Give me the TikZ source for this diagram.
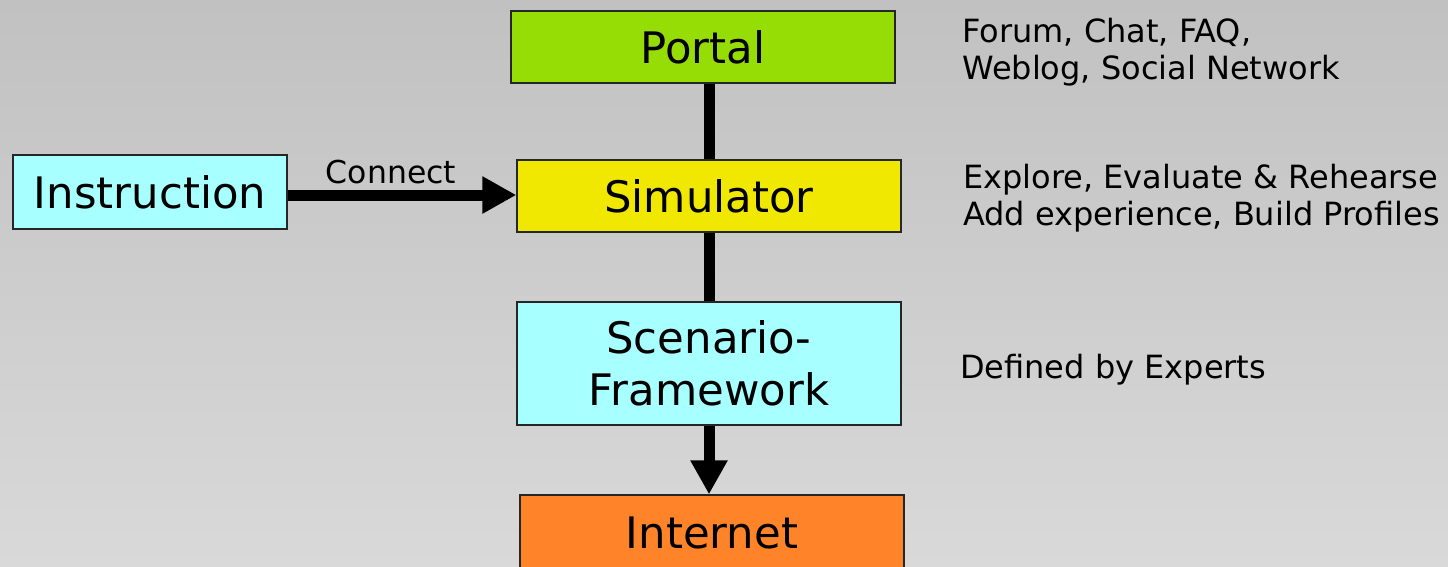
\documentclass[tikz,border=0pt]{standalone}
\usepackage{fontspec}
\setmainfont{DejaVu Sans}
\usetikzlibrary{arrows.meta}
\definecolor{bgtop}{RGB}{193,193,193}
\definecolor{bgbot}{RGB}{217,217,217}
\definecolor{portalgreen}{RGB}{150,220,5}
\definecolor{simyellow}{RGB}{240,232,0}
\definecolor{boxcyan}{RGB}{168,255,255}
\definecolor{netorange}{RGB}{255,132,41}
\tikzset{
  box/.style={draw=black!85, line width=1.3pt, rectangle, inner sep=0pt,
    font=\fontsize{43.4}{52}\selectfont, align=center},
  side/.style={anchor=north west, inner sep=0pt, align=left,
    font=\fontsize{32}{37.5}\selectfont},
  link/.style={line width=11pt, draw=black},
  arr/.style={line width=11pt, draw=black, -{Triangle[width=35pt,length=34pt]}}
}
\begin{document}
\begin{tikzpicture}[x=1pt,y=-1pt]
\shade[top color=bgtop, bottom color=bgbot] (0,0) rectangle (1448,566);
\useasboundingbox (0,0) rectangle (1448,566);
\node[box, fill=portalgreen, minimum width=384pt, minimum height=72pt] (portal) at (703,47) {Portal};
\node[box, fill=simyellow, minimum width=384pt, minimum height=72pt] (sim) at (709,196) {Simulator};
\node[box, fill=boxcyan, minimum width=384pt, minimum height=123pt] (scen) at (709,363.5) {Scenario-\\Framework};
\node[box, fill=netorange, minimum width=384pt, minimum height=76pt] (net) at (712,533) {Internet};
\node[box, fill=boxcyan, minimum width=274pt, minimum height=74pt] (instr) at (150,192) {Instruction};
\draw[link] (sim.north |- portal.south) -- (sim.north);
\draw[link] (sim.south) -- (sim.south |- scen.north);
\draw[arr] (scen.south) -- (scen.south |- net.north);
\draw[arr] ([yshift=-3pt]instr.east) -- ([yshift=-3pt]instr.east -| sim.west);
\node[anchor=base, inner sep=0pt, font=\fontsize{31.5}{37}\selectfont] (conn) at (391,183) {Connect};
\node[side] (t1) at (962,17.7) {Forum, Chat, FAQ,\\Weblog, Social Network};
\node[side] (t2) at (963,163.7) {Explore, Evaluate \& Rehearse\\Add experience, Build Profiles};
\node[side] (t3) at (960,353.7) {Defined by Experts};
\end{tikzpicture}
\end{document}
